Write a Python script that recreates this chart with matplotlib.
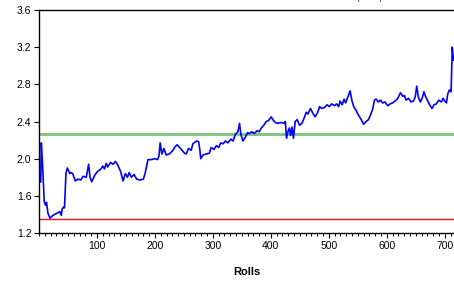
import matplotlib
matplotlib.use("Agg")
import matplotlib.pyplot as plt
from matplotlib.ticker import MultipleLocator

plt.rcParams['font.family'] = ['Liberation Sans', 'DejaVu Sans']

# rolling estimate
rolls = [3, 4, 6, 9, 11, 13, 15.5, 19, 24, 30, 36, 38.5, 40, 43, 44, 46.5, 49, 53, 55, 58,
         62.6, 67, 72, 76, 81.6, 85.6, 88, 91, 96, 100.6, 107, 110, 113, 116, 118.5, 123.5,
         127.5, 132, 136, 141, 145, 149, 152.6, 155.5, 159.5, 164, 168.6, 174, 180, 183,
         188, 194, 200, 204.5, 207, 209, 212, 215.5, 219.5, 225, 231, 235, 238.5, 242.7,
         245.5, 251, 254, 258, 262.6, 265.5, 269.5, 273, 275.5, 277.6, 279, 283, 288.5, 294,
         297, 302, 306, 310, 313.6, 317.6, 321.6, 326, 331, 335, 338.5, 343, 346, 348,
         351.7, 355, 360, 363.5, 367, 371.6, 376, 380, 383.5, 388, 392, 396, 400.6, 403.5,
         407.6, 412, 418, 422.6, 425, 427, 429.5, 432, 434, 436.5, 439, 442, 445.5, 449.5,
         453.6, 457, 461, 464, 468.4, 472.4, 476.4, 481, 484, 488, 492.5, 497, 501, 505,
         510, 513.5, 517, 519.5, 523, 526.4, 529, 533.3, 536.8, 539.7, 543, 547, 551, 556,
         560, 564.4, 568.4, 572, 576, 578.7, 581.6, 585.6, 589, 593, 597, 601.7, 606, 610,
         614.5, 619, 623.6, 627.6, 630.5, 633.3, 637.4, 642, 646, 649, 651.7, 654.6, 658,
         661, 664, 667, 670, 674, 678, 681.6, 685.6, 689.7, 694.3, 697.2, 700, 703, 705,
         708, 711, 713, 715]
estimate = [1.75, 2.17, 1.95, 1.54, 1.50, 1.53, 1.41, 1.36, 1.39, 1.41, 1.43, 1.39, 1.46, 1.48, 1.47, 1.84,
            1.90, 1.84, 1.85, 1.84, 1.76, 1.78, 1.77, 1.81, 1.80, 1.94, 1.80, 1.75, 1.82, 1.86,
            1.89, 1.92, 1.89, 1.95, 1.91, 1.96, 1.94, 1.97, 1.93, 1.86, 1.76, 1.84, 1.80, 1.85,
            1.80, 1.83, 1.78, 1.77, 1.78, 1.84, 1.99, 1.99, 2.00, 1.99, 2.03, 2.17, 2.05, 2.11,
            2.04, 2.05, 2.09, 2.13, 2.15, 2.12, 2.10, 2.06, 2.05, 2.11, 2.09, 2.16, 2.18, 2.19,
            2.18, 2.09, 2.00, 2.04, 2.05, 2.06, 2.12, 2.10, 2.14, 2.12, 2.17, 2.16, 2.19, 2.17,
            2.21, 2.19, 2.26, 2.29, 2.38, 2.27, 2.19, 2.22, 2.28, 2.27, 2.29, 2.27, 2.30, 2.29,
            2.33, 2.36, 2.40, 2.41, 2.45, 2.42, 2.39, 2.38, 2.39, 2.38, 2.40, 2.22, 2.29, 2.33,
            2.25, 2.34, 2.22, 2.40, 2.42, 2.36, 2.38, 2.43, 2.50, 2.48, 2.54, 2.49, 2.45, 2.50,
            2.56, 2.54, 2.55, 2.58, 2.56, 2.59, 2.57, 2.59, 2.56, 2.62, 2.58, 2.64, 2.60, 2.67,
            2.73, 2.63, 2.56, 2.52, 2.47, 2.42, 2.37, 2.40, 2.42, 2.47, 2.54, 2.63, 2.64, 2.61,
            2.63, 2.60, 2.61, 2.57, 2.59, 2.60, 2.62, 2.65, 2.71, 2.67, 2.68, 2.63, 2.65, 2.61,
            2.62, 2.66, 2.78, 2.66, 2.61, 2.65, 2.72, 2.67, 2.63, 2.58, 2.54, 2.58, 2.59, 2.63,
            2.61, 2.65, 2.62, 2.60, 2.69, 2.74, 2.72, 3.20, 3.06]

upper_level = 2.27
lower_level = 1.35

x_ticks = [100, 200, 300, 400, 500, 600, 700]
y_ticks = [1.2, 1.6, 2.0, 2.4, 2.8, 3.2, 3.6]

fig = plt.figure(figsize=(4.54, 2.81), dpi=100)
ax = fig.add_axes([39 / 454, 48 / 281, 1 - 39 / 454, 223 / 281])

ax.axhline(upper_level, color='#7fc07a', lw=2)
ax.axhline(lower_level, color='#ee1111', lw=1)
ax.plot(rolls, estimate, color='#0000ff', lw=1.2)

ax.set_xlim(0, 716)
ax.set_ylim(1.2, 3.6)
ax.set_xticks(x_ticks)
ax.set_yticks(y_ticks)
ax.set_yticklabels(['%.1f' % v for v in y_ticks])
ax.xaxis.set_minor_locator(MultipleLocator(10))
ax.tick_params(axis='both', which='major', direction='out', length=3.5, width=0.8,
               labelsize=7.5, pad=2, colors='black')
ax.tick_params(axis='x', which='minor', direction='out', length=2, width=0.7)
for side in ['left', 'top', 'bottom']:
    ax.spines[side].set_linewidth(1.0)
ax.spines['right'].set_visible(False)

ax.set_xlabel('Rolls', fontsize=8, fontweight='bold', labelpad=12)

# title sits above the picture; only the bottoms of its brackets show
fig.text(383 / 454, 1.0, 'Estimate (VaR)', ha='right', va='baseline',
         fontsize=7.5, color='#333333')

fig.savefig('out.png', dpi=100)
